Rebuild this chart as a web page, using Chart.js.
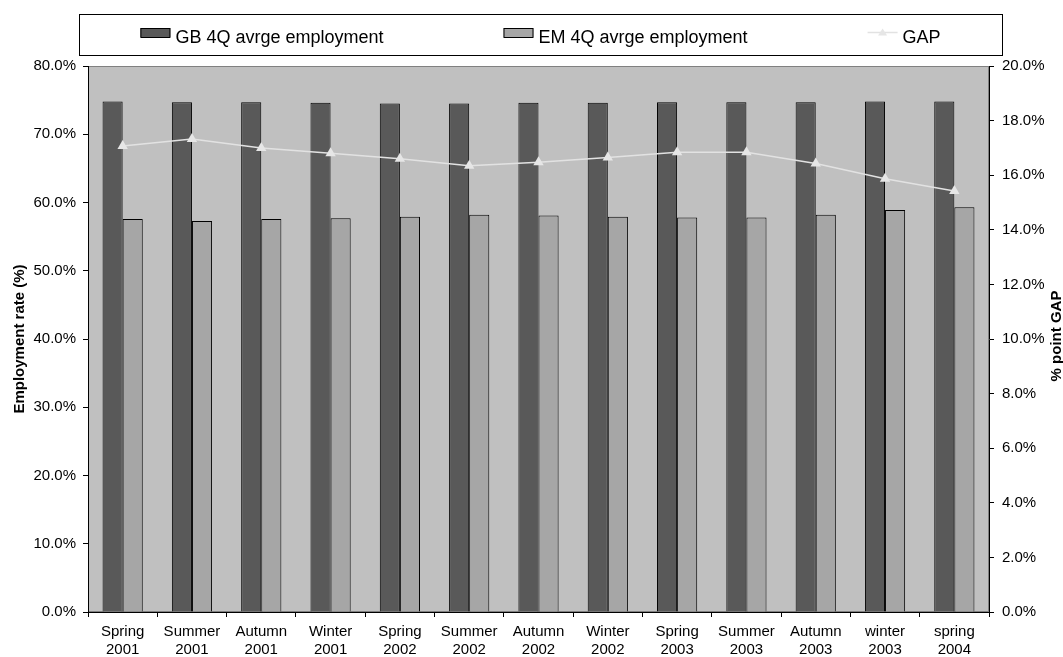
<!DOCTYPE html>
<html>
<head>
<meta charset="utf-8">
<script src="https://cdn.jsdelivr.net/npm/chart.js@4/dist/chart.umd.min.js"></script>
<style>
  html, body { margin: 0; padding: 0; background: #ffffff; }
  #wrap { width: 1063px; height: 657px; }
</style>
</head>
<body>
<div id="wrap"><canvas id="chart" width="1063" height="657"></canvas></div>
<script>
const categories = [
  ['Spring', '2001'], ['Summer', '2001'], ['Autumn', '2001'], ['Winter', '2001'],
  ['Spring', '2002'], ['Summer', '2002'], ['Autumn', '2002'], ['Winter', '2002'],
  ['Spring', '2003'], ['Summer', '2003'], ['Autumn', '2003'], ['winter', '2003'],
  ['spring', '2004']
];
const gbEmployment = [74.8, 74.7, 74.7, 74.6, 74.5, 74.5, 74.6, 74.6, 74.7, 74.7, 74.7, 74.8, 74.8];
const emEmployment = [57.6, 57.3, 57.6, 57.7, 57.9, 58.2, 58.1, 57.9, 57.8, 57.8, 58.2, 58.9, 59.3];
const gapValues = [17.07, 17.33, 17.0, 16.8, 16.6, 16.35, 16.47, 16.65, 16.84, 16.84, 16.43, 15.87, 15.42];

const leftTicks = { min: 0, max: 80, step: 10 };
const rightTicks = { min: 0, max: 20, step: 2 };

const FONT = '"Liberation Sans", Arial, sans-serif';
const pct = (v) => Number(v).toFixed(1) + '%';

// plot background + custom boxed legend + axis titles
const decorations = {
  id: 'decorations',
  beforeDraw(chart) {
    const { ctx, chartArea: a } = chart;
    ctx.save();
    ctx.fillStyle = '#c0c0c0';
    ctx.fillRect(a.left, a.top, a.right - a.left, a.bottom - a.top);
    ctx.strokeStyle = '#808080';
    ctx.lineWidth = 1;
    ctx.strokeRect(a.left + 0.5, a.top + 0.5, a.right - a.left - 1, a.bottom - a.top - 1);
    ctx.restore();
  },
  afterDraw(chart) {
    const { ctx, chartArea: a } = chart;
    ctx.save();

    // legend frame
    const box = { left: 79, top: 14, right: 1002, bottom: 55 };
    ctx.fillStyle = '#ffffff';
    ctx.fillRect(box.left, box.top, box.right - box.left, box.bottom - box.top);
    ctx.strokeStyle = '#000000';
    ctx.lineWidth = 1;
    ctx.strokeRect(box.left + 0.5, box.top + 0.5, box.right - box.left, box.bottom - box.top);

    ctx.font = '18px ' + FONT;
    ctx.textBaseline = 'alphabetic';
    const sym = 30, symGap = 5, itemGap = 120;
    const items = chart.data.datasets.map((ds) => ({
      ds,
      w: sym + symGap + ctx.measureText(ds.label).width
    }));
    const total = items.reduce((s, it) => s + it.w, 0) + itemGap * (items.length - 1);
    let x = (box.left + box.right) / 2 - total / 2;
    const midY = 32.5;
    items.forEach(({ ds, w }) => {
      if (ds.type === 'line') {
        ctx.strokeStyle = ds.borderColor;
        ctx.lineWidth = 1.5;
        ctx.beginPath();
        ctx.moveTo(x, midY);
        ctx.lineTo(x + sym, midY);
        ctx.stroke();
        ctx.fillStyle = ds.pointBackgroundColor;
        ctx.beginPath();
        ctx.moveTo(x + sym / 2, midY - 4);
        ctx.lineTo(x + sym / 2 + 4.5, midY + 3);
        ctx.lineTo(x + sym / 2 - 4.5, midY + 3);
        ctx.closePath();
        ctx.fill();
      } else {
        ctx.fillStyle = ds.backgroundColor;
        ctx.fillRect(x, midY - 4.5, sym, 9);
        ctx.strokeStyle = '#000000';
        ctx.lineWidth = 1;
        ctx.strokeRect(x + 0.5, midY - 4.5 + 0.5, sym - 1, 9);
      }
      ctx.fillStyle = '#000000';
      ctx.fillText(ds.label, x + sym + symGap, 43);
      x += w + itemGap;
    });

    // axis titles (both read bottom-to-top)
    ctx.font = 'bold 15px ' + FONT;
    ctx.fillStyle = '#000000';
    ctx.textAlign = 'center';
    const cy = (a.top + a.bottom) / 2;
    ctx.save();
    ctx.translate(23.5, cy);
    ctx.rotate(-Math.PI / 2);
    ctx.fillText('Employment rate (%)', 0, 0);
    ctx.restore();
    ctx.save();
    ctx.translate(1061, cy - 3);
    ctx.rotate(-Math.PI / 2);
    ctx.fillText('% point GAP', 0, 0);
    ctx.restore();

    ctx.restore();
  }
};

Chart.defaults.font.family = FONT;
Chart.defaults.color = '#000000';

new Chart(document.getElementById('chart').getContext('2d'), {
  type: 'bar',
  data: {
    labels: categories,
    datasets: [
      {
        label: 'GB 4Q avrge employment',
        data: gbEmployment,
        yAxisID: 'y',
        backgroundColor: '#595959',
        borderColor: '#000000',
        borderWidth: 1,
        categoryPercentage: 0.58,
        barPercentage: 1.0,
        order: 1
      },
      {
        label: 'EM 4Q avrge employment',
        data: emEmployment,
        yAxisID: 'y',
        backgroundColor: '#a6a6a6',
        borderColor: '#000000',
        borderWidth: 1,
        categoryPercentage: 0.58,
        barPercentage: 1.0,
        order: 1
      },
      {
        type: 'line',
        label: 'GAP',
        data: gapValues,
        yAxisID: 'y1',
        borderColor: '#e2e2e2',
        borderWidth: 1.5,
        pointStyle: 'triangle',
        pointRadius: 6,
        pointBackgroundColor: '#e6e6e6',
        pointBorderColor: '#e6e6e6',
        pointBorderWidth: 0,
        tension: 0,
        order: 0
      }
    ]
  },
  options: {
    responsive: false,
    animation: false,
    layout: { padding: { top: 66, left: 0, right: 0, bottom: 0 } },
    plugins: {
      legend: { display: false },
      tooltip: { enabled: false }
    },
    scales: {
      x: {
        offset: true,
        grid: {
          offset: true,
          drawOnChartArea: false,
          tickLength: 5,
          color: '#000000'
        },
        border: { color: '#000000', width: 1 },
        ticks: { font: { size: 15 }, padding: 6, maxRotation: 0, autoSkip: false },
        afterFit(scale) { scale.height = 45; }
      },
      y: {
        position: 'left',
        min: leftTicks.min,
        max: leftTicks.max,
        grid: { drawOnChartArea: false, tickLength: 5, color: '#000000' },
        border: { color: '#000000', width: 1 },
        ticks: { stepSize: leftTicks.step, font: { size: 15 }, padding: 7, callback: pct },
        afterFit(scale) { scale.width = 88; }
      },
      y1: {
        position: 'right',
        min: rightTicks.min,
        max: rightTicks.max,
        grid: { drawOnChartArea: false, tickLength: 5, color: '#000000' },
        border: { color: '#000000', width: 1 },
        ticks: { stepSize: rightTicks.step, font: { size: 15 }, padding: 8, callback: pct },
        afterFit(scale) { scale.width = 74; }
      }
    }
  },
  plugins: [decorations]
});
</script>
</body>
</html>
